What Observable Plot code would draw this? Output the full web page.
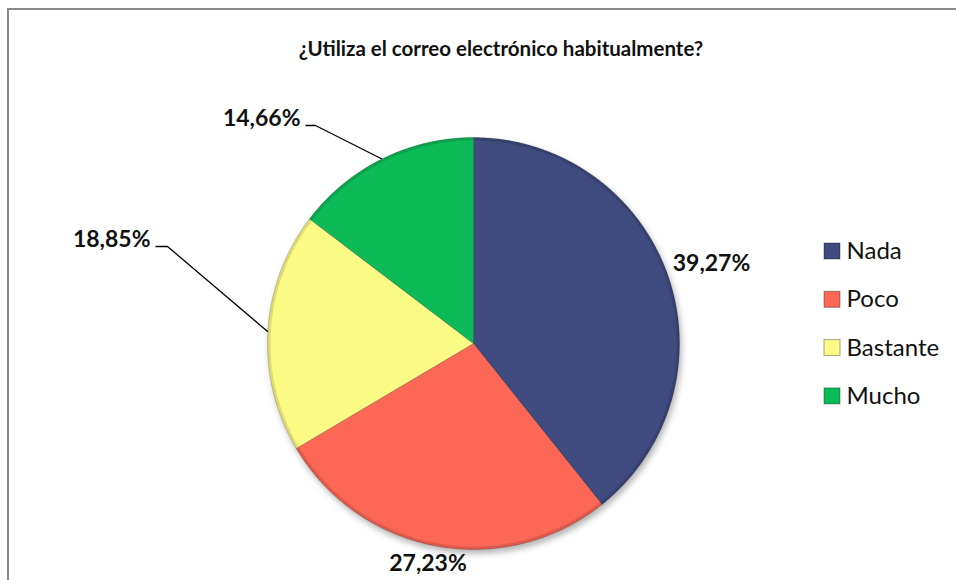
<!DOCTYPE html>
<html><head><meta charset="utf-8">
<script src="https://cdn.jsdelivr.net/npm/d3@7"></script>
<script src="https://cdn.jsdelivr.net/npm/@observablehq/plot@0.6"></script>
<style>
html,body{margin:0;padding:0;background:#fff;overflow:hidden;}
#wrap{position:relative;width:956px;height:580px;overflow:hidden;}
#frame{position:absolute;left:7px;top:8px;width:1000px;height:700px;border:2px solid #8a8a8a;box-sizing:border-box;}
#chart{position:absolute;left:0;top:0;}
</style></head><body>
<div id="wrap"><div id="frame"></div><div id="chart"></div></div>
<script>
// ---- data ----
const title = "¿Utiliza el correo electrónico habitualmente?";
const categories = ["Nada", "Poco", "Bastante", "Mucho"];
const values = [39.27, 27.23, 18.85, 14.66];
const colors = ["#3F4A7F", "#FD6756", "#FBFA85", "#0DBA58"];

// ---- layout (pixel units relative to the pie centre) ----
const R = 206;
const labelPos = [[238, -79.5, "middle"], [-45.5, 220.5, "middle"], [-323, -103.5, "end"], [-173, -224.5, "end"]];
const leaderPts = [null, null, [[-318, -97], [-306, -97]], [[-168, -218], [-158, -218]]];

const total = d3.sum(values);
const fmt = v => v.toFixed(2).replace(".", ",") + "%";
const rad = a => a * Math.PI / 180;
const polar = (a, r) => ({x: r * Math.sin(rad(a)), y: -r * Math.cos(rad(a))});

// slices
const slicePts = [];
const mids = [];
let acc = 0;
categories.forEach((c, i) => {
  const a0 = acc / total * 360, a1 = (acc + values[i]) / total * 360;
  acc += values[i];
  mids.push((a0 + a1) / 2);
  slicePts.push({cat: c, x: 0, y: 0});
  const n = Math.max(2, Math.ceil((a1 - a0) / 0.5));
  for (let k = 0; k <= n; k++) {
    const p = polar(a0 + (a1 - a0) * k / n, R);
    slicePts.push({cat: c, x: p.x, y: p.y});
  }
  slicePts.push({cat: c, x: 0, y: 0});
});
// shadow disc under the pie and darker rim
const shadowPts = d3.range(0, 361, 1).map(a => { const p = polar(a, R); return {x: p.x + 2, y: p.y + 4}; });
const rimPts = d3.range(0, 361, 1).map(a => polar(a, R - 1.5));

// labels
const labels = categories.map((c, i) => ({cat: c, text: fmt(values[i]), x: labelPos[i][0], y: labelPos[i][1], anchor: labelPos[i][2]}));
const leaders = [];
categories.forEach((c, i) => {
  if (!leaderPts[i]) return;
  leaderPts[i].forEach(p => leaders.push({cat: c, x: p[0], y: p[1]}));
  const e = polar(mids[i], R);
  leaders.push({cat: c, x: e.x, y: e.y});
});

// legend
const legend = categories.map((c, i) => {
  const cy = -92 + i * 48.3;
  return {cat: c, x1: 351, x2: 367, y1: cy - 8, y2: cy + 8, tx: 373, ty: cy};
});

const plot = Plot.plot({
  width: 956, height: 580,
  margin: 0,
  x: {domain: [-473, 483], range: [0, 956], axis: null},
  y: {domain: [-343, 237], range: [0, 580], axis: null},
  color: {domain: categories, range: colors},
  style: {fontFamily: "Lato, 'Open Sans', sans-serif", background: "transparent", overflow: "visible"},
  marks: [
    Plot.line(shadowPts, {x: "x", y: "y", fill: "#000", fillOpacity: 0.3, stroke: "none"}),
    Plot.line(slicePts, {x: "x", y: "y", z: "cat", fill: "cat", stroke: "#000", strokeOpacity: 0.18, strokeWidth: 1}),
    Plot.line(rimPts, {x: "x", y: "y", stroke: "#000", strokeOpacity: 0.12, strokeWidth: 3}),
    Plot.line(leaders, {x: "x", y: "y", z: "cat", stroke: "#000", strokeWidth: 1.3, strokeLinecap: "butt", strokeLinejoin: "miter"}),
    Plot.text(labels.filter(d => d.anchor === "middle"), {x: "x", y: "y", text: "text", fontSize: 23, fontWeight: "bold", fill: "#111", textAnchor: "middle"}),
    Plot.text(labels.filter(d => d.anchor === "end"), {x: "x", y: "y", text: "text", fontSize: 23, fontWeight: "bold", fill: "#111", textAnchor: "end"}),
    Plot.rect(legend, {x1: "x1", x2: "x2", y1: "y1", y2: "y2", fill: "cat", stroke: "#000", strokeOpacity: 0.35, strokeWidth: 1}),
    Plot.text(legend, {x: "tx", y: "ty", text: "cat", fontSize: 24, fill: "#111", textAnchor: "start"}),
    Plot.text([title], {frameAnchor: "top", lineAnchor: "middle", dx: 22.5, dy: 48.5, fontSize: 20.5, fontWeight: "bold", fill: "#111"})
  ]
});
const svg = d3.select(plot);
const defs = svg.insert("defs", ":first-child");
defs.append("filter").attr("id", "blurShadow").attr("x", "-20%").attr("y", "-20%").attr("width", "140%").attr("height", "140%")
  .append("feGaussianBlur").attr("stdDeviation", 3);
const lineGroups = svg.selectAll('g[aria-label="line"]').nodes();
if (lineGroups.length) d3.select(lineGroups[0]).attr("filter", "url(#blurShadow)");
document.getElementById("chart").appendChild(plot);
</script>
</body></html>
